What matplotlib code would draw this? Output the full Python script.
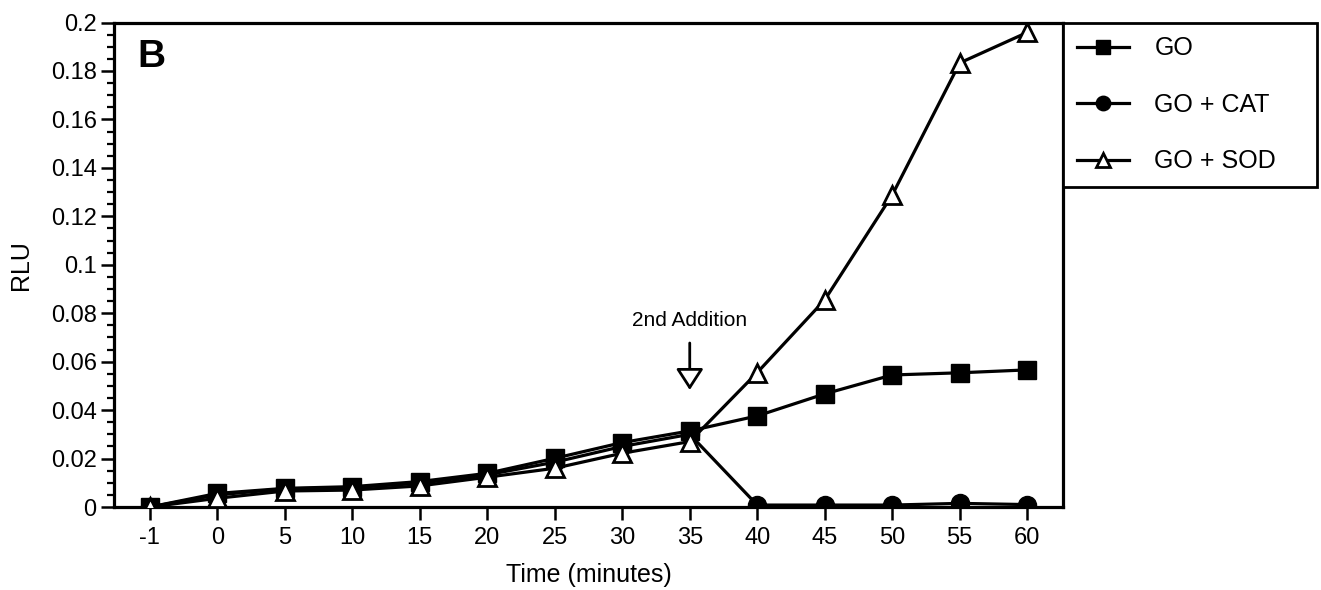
import matplotlib
matplotlib.use("Agg")
import matplotlib.pyplot as plt

plt.rcParams['font.family'] = ['Liberation Sans', 'DejaVu Sans']

# time points (minutes), shown as equally spaced categories
time_labels = ['-1', '0', '5', '10', '15', '20', '25', '30', '35', '40', '45', '50', '55', '60']

go = [0.0, 0.0056, 0.0077, 0.0084, 0.0105, 0.0139, 0.0201, 0.0266, 0.0314,
      0.0376, 0.0467, 0.0545, 0.0554, 0.0566]
go_cat = [0.0, 0.0050, 0.0075, 0.0080, 0.0098, 0.0133, 0.0185, 0.0250, 0.0300,
          0.0008, 0.0008, 0.0008, 0.0015, 0.0010]
go_sod = [0.0, 0.0036, 0.0066, 0.0070, 0.0087, 0.0123, 0.0160, 0.0222, 0.0270,
          0.0555, 0.0855, 0.1288, 0.1833, 0.1959]

y_ticks = [0, 0.02, 0.04, 0.06, 0.08, 0.1, 0.12, 0.14, 0.16, 0.18, 0.2]
y_tick_labels = ['0', '0.02', '0.04', '0.06', '0.08', '0.1', '0.12', '0.14',
                 '0.16', '0.18', '0.2']
y_minor = [i * 0.005 for i in range(41)]

x = list(range(len(time_labels)))

fig = plt.figure(figsize=(13.21, 5.90), dpi=100)
ax = fig.add_axes([114 / 1321, 1 - 507 / 590, (1063 - 114) / 1321, (507 - 22.5) / 590])

lw = 2.3
ax.plot(x, go, color='black', lw=lw, marker='s', ms=13, mfc='black', mec='black',
        label='GO', zorder=3)
ax.plot(x, go_cat, color='black', lw=lw, marker='o', ms=13, mfc='black', mec='black',
        label='GO + CAT', zorder=2)
ax.plot(x, go_sod, color='black', lw=lw, marker='^', ms=13, mfc='white', mec='black',
        mew=2, label='GO + SOD', zorder=4)

ax.set_xlim(-0.53, 13.53)
ax.set_ylim(0, 0.2)
ax.set_xticks(x)
ax.set_xticklabels(time_labels)
ax.set_yticks(y_ticks)
ax.set_yticklabels(y_tick_labels)
ax.set_yticks(y_minor, minor=True)

for s in ax.spines.values():
    s.set_linewidth(2.3)
ax.tick_params(axis='both', which='major', direction='out', length=9.5, width=1.8,
               labelsize=17)
ax.tick_params(axis='x', pad=5)
ax.tick_params(axis='y', pad=3)
ax.tick_params(axis='y', which='minor', direction='out', length=5, width=1.6)

ax.set_xlabel('Time (minutes)', fontsize=18, labelpad=10)
ax.set_ylabel('RLU', fontsize=18, labelpad=13)

ax.text(0.025, 0.965, 'B', transform=ax.transAxes, fontsize=28, fontweight='bold',
        ha='left', va='top')

# 2nd addition marker
ax.text(8, 0.0768, '2nd Addition', fontsize=15, ha='center', va='center')
ax.annotate('', xy=(8, 0.0483), xytext=(8, 0.0677),
            arrowprops=dict(arrowstyle='-|>,head_length=0.65,head_width=0.42',
                            mutation_scale=20, fc='white', ec='black', lw=2,
                            shrinkA=0, shrinkB=0))

leg = ax.legend(loc='upper left', bbox_to_anchor=(1.0, 0.666, 0.2677, 0.334),
                mode='expand', borderaxespad=0, fancybox=False, framealpha=1,
                edgecolor='black', fontsize=18, handlelength=2.1,
                handletextpad=1.0, labelspacing=1.3, borderpad=0.55,
                markerscale=0.8)
leg.get_frame().set_linewidth(2.0)

fig.savefig('out.png', dpi=100)
